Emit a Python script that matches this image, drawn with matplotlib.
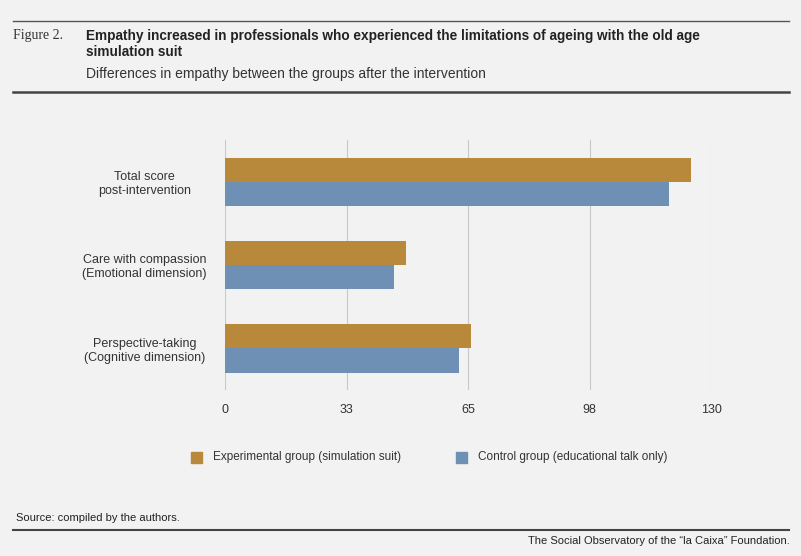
import matplotlib.pyplot as plt
import numpy as np

plt.rcParams['font.family'] = ['Liberation Sans', 'DejaVu Sans']

categories = ["Total score\npost-intervention",
              "Care with compassion\n(Emotional dimension)",
              "Perspective-taking\n(Cognitive dimension)"]
experimental = [124.7, 48.4, 65.8]
control = [118.8, 45.2, 62.6]
tick_vals = [0, 32.5, 65, 97.5, 130]
tick_labels = ["0", "33", "65", "98", "130"]

bg = "#F2F2F2"
gold = "#B8893A"
blue = "#6E90B5"

fig = plt.figure(figsize=(8.01, 5.56), dpi=100, facecolor=bg)
ax = fig.add_axes([225/801, 1-390/556, 486/801, 250/556], facecolor=bg)

y = np.arange(len(categories))
h = 0.29
ax.barh(y - h/2, experimental, height=h, color=gold, zorder=3)
ax.barh(y + h/2, control, height=h, color=blue, zorder=3)
ax.set_ylim(2.5, -0.5)
ax.set_xlim(0, 130)
ax.set_xticks(tick_vals)
ax.set_xticklabels(tick_labels, fontsize=9, color="#333333")
ax.set_yticks(y)
ax.set_yticklabels(categories, fontsize=9, color="#333333", ha="center")
ax.tick_params(axis="y", length=0, pad=58)
ax.tick_params(axis="x", length=0, pad=10)
ax.grid(axis="x", color="#C8C8C8", lw=0.8, zorder=0)
for s in ax.spines.values():
    s.set_visible(False)

# legend
fig.patches.append(plt.Rectangle((191/801, 1-463/556), 11/801, 11/556, color=gold, transform=fig.transFigure))
fig.text(213/801, 1-457/556, "Experimental group (simulation suit)", fontsize=8.5, va="center", color="#333333")
fig.patches.append(plt.Rectangle((456/801, 1-463/556), 11/801, 11/556, color=blue, transform=fig.transFigure))
fig.text(478/801, 1-457/556, "Control group (educational talk only)", fontsize=8.5, va="center", color="#333333")

# header
fig.add_artist(plt.Line2D([13/801, 789/801], [1-21/556]*2, color="#555555", lw=1))
fig.text(13/801, 1-36/556, "Figure 2.", fontsize=10, family="Liberation Serif", va="center", color="#333333")
fig.text(86/801, 1-44/556, "Empathy increased in professionals who experienced the limitations of ageing with the old age\nsimulation suit",
         fontsize=9.8, weight="bold", va="center", color="#222222", linespacing=1.1)
fig.text(86/801, 1-74/556, "Differences in empathy between the groups after the intervention", fontsize=10, va="center", color="#333333")
fig.add_artist(plt.Line2D([13/801, 789/801], [1-92/556]*2, color="#444444", lw=1.8))

# footer
fig.text(16/801, 1-518/556, "Source: compiled by the authors.", fontsize=8, va="center", color="#222222")
fig.add_artist(plt.Line2D([13/801, 789/801], [1-530/556]*2, color="#444444", lw=1.5))
fig.text(790/801, 1-541/556, "The Social Observatory of the \u201cla Caixa\u201d Foundation.", fontsize=8, ha="right", va="center", color="#222222")

fig.savefig("out.png", dpi=100, facecolor=bg)
